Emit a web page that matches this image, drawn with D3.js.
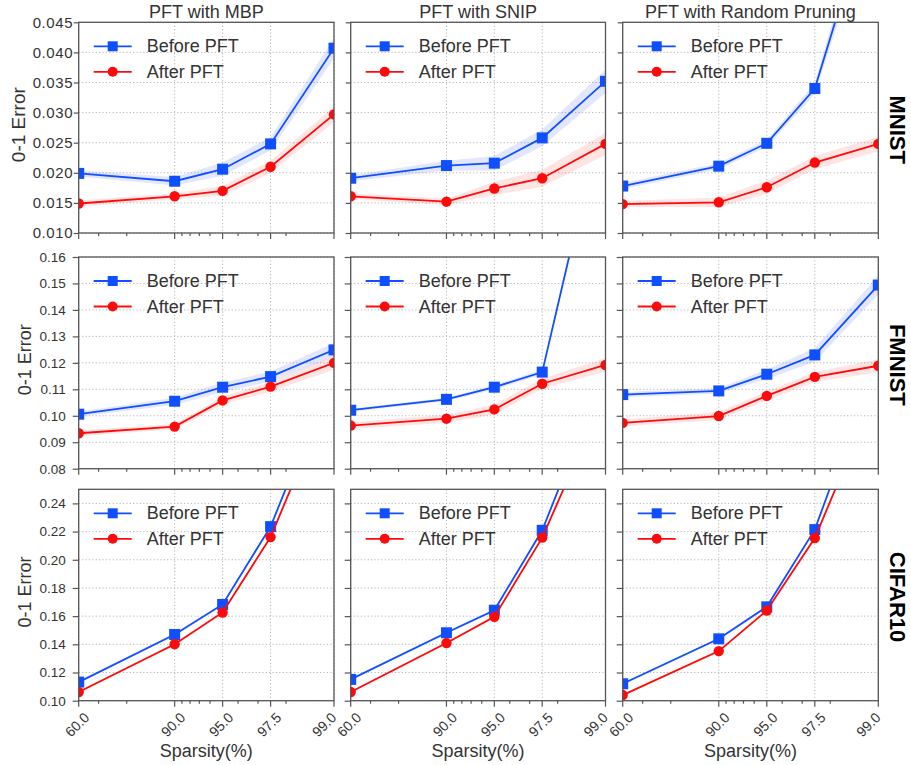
<!DOCTYPE html>
<html><head><meta charset="utf-8">
<script src="https://cdn.jsdelivr.net/npm/d3@7"></script>
<style>body{margin:0;background:#fff;} svg{display:block;font-family:"Liberation Sans",Arial,sans-serif;}</style>
</head><body><svg id="chart" width="911" height="765"></svg>
<script>
// ---------- data ----------
const sparsity = [60, 90, 95, 97.5, 99];
const xTickLabels = ["60.0", "90.0", "95.0", "97.5", "99.0"];
const methods = ["PFT with MBP", "PFT with SNIP", "PFT with Random Pruning"];
const datasets = ["MNIST", "FMNIST", "CIFAR10"];
const seriesNames = ["Before PFT", "After PFT"];

const mnistYRange = [0.010, 0.045];
const mnistYTicks = [0.010, 0.015, 0.020, 0.025, 0.030, 0.035, 0.040, 0.045];
const fmnistYRange = [0.08, 0.16];
const fmnistYTicks = [0.08, 0.09, 0.10, 0.11, 0.12, 0.13, 0.14, 0.15, 0.16];
const cifarYRange = [0.10, 0.25];
const cifarYTicks = [0.10, 0.12, 0.14, 0.16, 0.18, 0.20, 0.22, 0.24];

// MNIST
const mnistMbpBefore = [0.0199, 0.0186, 0.0206, 0.0248, 0.0407];
const mnistMbpBeforeBand = [0.0005, 0.0007, 0.0011, 0.0011, 0.0017];
const mnistMbpAfter = [0.0149, 0.0161, 0.0170, 0.0210, 0.0297];
const mnistMbpAfterBand = [0.0005, 0.0005, 0.0008, 0.0010, 0.0013];
const mnistSnipBefore = [0.0191, 0.0212, 0.0216, 0.0258, 0.0352];
const mnistSnipBeforeBand = [0.0005, 0.0008, 0.0012, 0.0014, 0.0019];
const mnistSnipAfter = [0.0161, 0.0152, 0.0174, 0.0191, 0.0248];
const mnistSnipAfterBand = [0.0005, 0.0005, 0.0011, 0.0014, 0.0018];
const mnistRandBefore = [0.0178, 0.0211, 0.0249, 0.0340, 0.0685];
const mnistRandBeforeBand = [0.0005, 0.0005, 0.0006, 0.0009, 0.0030];
const mnistRandAfter = [0.0148, 0.0151, 0.0176, 0.0217, 0.0248];
const mnistRandAfterBand = [0.0005, 0.0008, 0.0011, 0.0011, 0.0012];

// FMNIST
const fmnistMbpBefore = [0.1006, 0.1055, 0.1108, 0.1148, 0.1249];
const fmnistMbpBeforeBand = [0.0010, 0.0013, 0.0018, 0.0019, 0.0026];
const fmnistMbpAfter = [0.0934, 0.0959, 0.1058, 0.1110, 0.1200];
const fmnistMbpAfterBand = [0.0010, 0.0010, 0.0015, 0.0018, 0.0026];
const fmnistSnipBefore = [0.1021, 0.1062, 0.1108, 0.1165, 0.2190];
const fmnistSnipBeforeBand = [0.0006, 0.0006, 0.0009, 0.0009, 0.0015];
const fmnistSnipAfter = [0.0963, 0.0989, 0.1024, 0.1121, 0.1192];
const fmnistSnipAfterBand = [0.0013, 0.0015, 0.0019, 0.0019, 0.0026];
const fmnistRandBefore = [0.1080, 0.1094, 0.1157, 0.1230, 0.1494];
const fmnistRandBeforeBand = [0.0010, 0.0010, 0.0018, 0.0026, 0.0036];
const fmnistRandAfter = [0.0973, 0.0999, 0.1075, 0.1147, 0.1189];
const fmnistRandAfterBand = [0.0013, 0.0015, 0.0018, 0.0018, 0.0025];

// CIFAR10
const cifarMbpBefore = [0.1132, 0.1470, 0.1683, 0.2235, 0.3356];
const cifarMbpBeforeBand = [0.0007, 0.0008, 0.0009, 0.0010, 0.0012];
const cifarMbpAfter = [0.1062, 0.1401, 0.1626, 0.2161, 0.3236];
const cifarMbpAfterBand = [0.0007, 0.0008, 0.0009, 0.0010, 0.0012];
const cifarSnipBefore = [0.1151, 0.1482, 0.1642, 0.2209, 0.3340];
const cifarSnipBeforeBand = [0.0007, 0.0009, 0.0009, 0.0010, 0.0012];
const cifarSnipAfter = [0.1062, 0.1409, 0.1595, 0.2157, 0.3180];
const cifarSnipAfterBand = [0.0007, 0.0008, 0.0009, 0.0010, 0.0012];
const cifarRandBefore = [0.1120, 0.1439, 0.1666, 0.2214, 0.3450];
const cifarRandBeforeBand = [0.0007, 0.0008, 0.0009, 0.0010, 0.0012];
const cifarRandAfter = [0.1040, 0.1352, 0.1640, 0.2154, 0.3227];
const cifarRandAfterBand = [0.0007, 0.0008, 0.0009, 0.0010, 0.0012];

// ---------- table built from the arrays ----------
const table = [
  { name: datasets[0], yRange: mnistYRange, yTicks: mnistYTicks, fmt: ".3f", cells: [
    [[mnistMbpBefore, mnistMbpBeforeBand], [mnistMbpAfter, mnistMbpAfterBand]],
    [[mnistSnipBefore, mnistSnipBeforeBand], [mnistSnipAfter, mnistSnipAfterBand]],
    [[mnistRandBefore, mnistRandBeforeBand], [mnistRandAfter, mnistRandAfterBand]] ] },
  { name: datasets[1], yRange: fmnistYRange, yTicks: fmnistYTicks, fmt: ".2f", cells: [
    [[fmnistMbpBefore, fmnistMbpBeforeBand], [fmnistMbpAfter, fmnistMbpAfterBand]],
    [[fmnistSnipBefore, fmnistSnipBeforeBand], [fmnistSnipAfter, fmnistSnipAfterBand]],
    [[fmnistRandBefore, fmnistRandBeforeBand], [fmnistRandAfter, fmnistRandAfterBand]] ] },
  { name: datasets[2], yRange: cifarYRange, yTicks: cifarYTicks, fmt: ".2f", cells: [
    [[cifarMbpBefore, cifarMbpBeforeBand], [cifarMbpAfter, cifarMbpAfterBand]],
    [[cifarSnipBefore, cifarSnipBeforeBand], [cifarSnipAfter, cifarSnipAfterBand]],
    [[cifarRandBefore, cifarRandBeforeBand], [cifarRandAfter, cifarRandAfterBand]] ] }
];

// ---------- layout & style ----------
const colX = [[78.7, 334], [350.7, 605.5], [622.7, 878.3]];
const rowY = [[22.3, 233], [257, 468.7], [489.3, 700.7]];
const colors = ["#0f4fff", "#ff0a0a"];
const bandColors = ["rgba(40,60,255,0.13)", "rgba(255,30,30,0.12)"];
const textColor = "#333";

const svg = d3.select("#chart");
const defs = svg.append("defs");

table.forEach((row, ri) => {
  const [y0, y1] = rowY[ri];
  const y = d3.scaleLinear().domain(row.yRange).range([y1, y0]);

  row.cells.forEach((cell, ci) => {
    const [x0, x1] = colX[ci];
    // x: log scale of (100 - sparsity), reversed
    const xl = d3.scaleLog().domain([100 - sparsity[0], 100 - sparsity[sparsity.length - 1]]).range([x0, x1]);
    const x = s => xl(100 - s);

    const clipId = `clip-${ri}-${ci}`;
    defs.append("clipPath").attr("id", clipId).append("rect")
      .attr("x", x0).attr("y", y0).attr("width", x1 - x0).attr("height", y1 - y0);

    const g = svg.append("g");

    // grid
    const grid = g.append("g").attr("stroke", "#b5b5b5").attr("stroke-width", 1).attr("stroke-dasharray", "1.2,2.2");
    grid.selectAll("line.gy").data(row.yTicks).join("line")
      .attr("x1", x0).attr("x2", x1).attr("y1", d => y(d)).attr("y2", d => y(d));
    grid.selectAll("line.gx").data(sparsity).join("line")
      .attr("x1", d => x(d)).attr("x2", d => x(d)).attr("y1", y0).attr("y2", y1);

    const plot = g.append("g").attr("clip-path", `url(#${clipId})`);
    cell.forEach(([vals, band], si) => {
      const pts = sparsity.map((s, i) => ({ s, v: vals[i], b: band[i] }));
      plot.append("path").datum(pts)
        .attr("fill", bandColors[si])
        .attr("d", d3.area().x(d => x(d.s)).y0(d => y(d.v - d.b)).y1(d => y(d.v + d.b)));
    });
    cell.forEach(([vals], si) => {
      const pts = sparsity.map((s, i) => ({ s, v: vals[i] }));
      plot.append("path").datum(pts)
        .attr("fill", "none").attr("stroke", colors[si]).attr("stroke-width", 1.8)
        .attr("d", d3.line().x(d => x(d.s)).y(d => y(d.v)));
      if (si === 0) {
        plot.selectAll(null).data(pts).join("rect")
          .attr("x", d => x(d.s) - 5.5).attr("y", d => y(d.v) - 5.5)
          .attr("width", 11).attr("height", 11).attr("fill", colors[si]);
      } else {
        plot.selectAll(null).data(pts).join("circle")
          .attr("cx", d => x(d.s)).attr("cy", d => y(d.v)).attr("r", 5.2).attr("fill", colors[si]);
      }
    });

    // axes
    const firstRow = ri === 0;
    const yAxis = d3.axisLeft(y).tickValues(row.yTicks)
      .tickFormat(ci === 0 ? d3.format(row.fmt) : () => "")
      .tickSize(firstRow ? 5 : 6).tickPadding(firstRow ? 0.5 : 7);
    const ya = g.append("g").attr("transform", `translate(${x0},0)`).call(yAxis);
    ya.select(".domain").remove();
    ya.selectAll(".tick line").attr("stroke", "#555").attr("stroke-width", 1.2);
    ya.selectAll("text").attr("fill", textColor)
      .style("font-size", firstRow ? "15px" : "13.5px")
      .style("letter-spacing", firstRow ? "0.6px" : "0px");

    // bottom major + minor ticks
    const majorD = sparsity.map(s => 100 - s);
    const minorD = xl.ticks().filter(d => !majorD.includes(d));
    const tk = g.append("g").attr("stroke", "#555").attr("stroke-width", 1.2);
    tk.selectAll("line.maj").data(majorD).join("line")
      .attr("x1", d => xl(d)).attr("x2", d => xl(d)).attr("y1", y1).attr("y2", y1 + 6);
    tk.selectAll("line.min").data(minorD).join("line")
      .attr("x1", d => xl(d)).attr("x2", d => xl(d)).attr("y1", y1).attr("y2", y1 + 3);

    if (ri === table.length - 1) {
      g.selectAll("text.xt").data(sparsity).join("text")
        .attr("transform", (d, i) => `translate(${x(d) - (i === sparsity.length - 1 ? 10 : 1.5)},${y1 + 24}) rotate(-45)`)
        .attr("text-anchor", "middle").attr("dominant-baseline", "central")
        .attr("fill", textColor).style("font-size", "14px")
        .text((d, i) => xTickLabels[i]);
      g.append("text").attr("x", (x0 + x1) / 2).attr("y", 757)
        .attr("text-anchor", "middle").attr("fill", textColor).style("font-size", "18px")
        .text("Sparsity(%)");
    }

    // frame
    g.append("rect").attr("x", x0).attr("y", y0).attr("width", x1 - x0).attr("height", y1 - y0)
      .attr("fill", "none").attr("stroke", "#555").attr("stroke-width", 1.3);

    // legend
    const lg = g.append("g");
    seriesNames.forEach((nm, si) => {
      const ly = y0 + 24 + si * 25.5;
      lg.append("line").attr("x1", x0 + 15).attr("x2", x0 + 53).attr("y1", ly).attr("y2", ly)
        .attr("stroke", colors[si]).attr("stroke-width", 1.8);
      if (si === 0) lg.append("rect").attr("x", x0 + 34 - 5).attr("y", ly - 5).attr("width", 10).attr("height", 10).attr("fill", colors[si]);
      else lg.append("circle").attr("cx", x0 + 34).attr("cy", ly).attr("r", 5).attr("fill", colors[si]);
      lg.append("text").attr("x", x0 + 68).attr("y", ly).attr("dominant-baseline", "central")
        .attr("fill", textColor).style("font-size", "18px").text(nm);
    });

    // column titles
    if (ri === 0) {
      g.append("text").attr("x", (x0 + x1) / 2).attr("y", 17.5).attr("text-anchor", "middle")
        .attr("fill", textColor).style("font-size", "18px").text(methods[ci]);
    }
  });

  // y label
  svg.append("text")
    .attr("transform", `translate(${ri === 0 ? 25 : 31},${(y0 + y1) / 2 - 3}) rotate(-90)`)
    .attr("text-anchor", "middle").attr("fill", textColor)
    .style("font-size", ri === 0 ? "19px" : "18px").text("0-1 Error");

  // row label
  svg.append("text")
    .attr("transform", `translate(890,${(y0 + y1) / 2 + 2}) rotate(90)`)
    .attr("text-anchor", "middle").attr("fill", "#000")
    .style("font-size", "22px").style("font-weight", "bold").text(row.name);
});
</script></body></html>
